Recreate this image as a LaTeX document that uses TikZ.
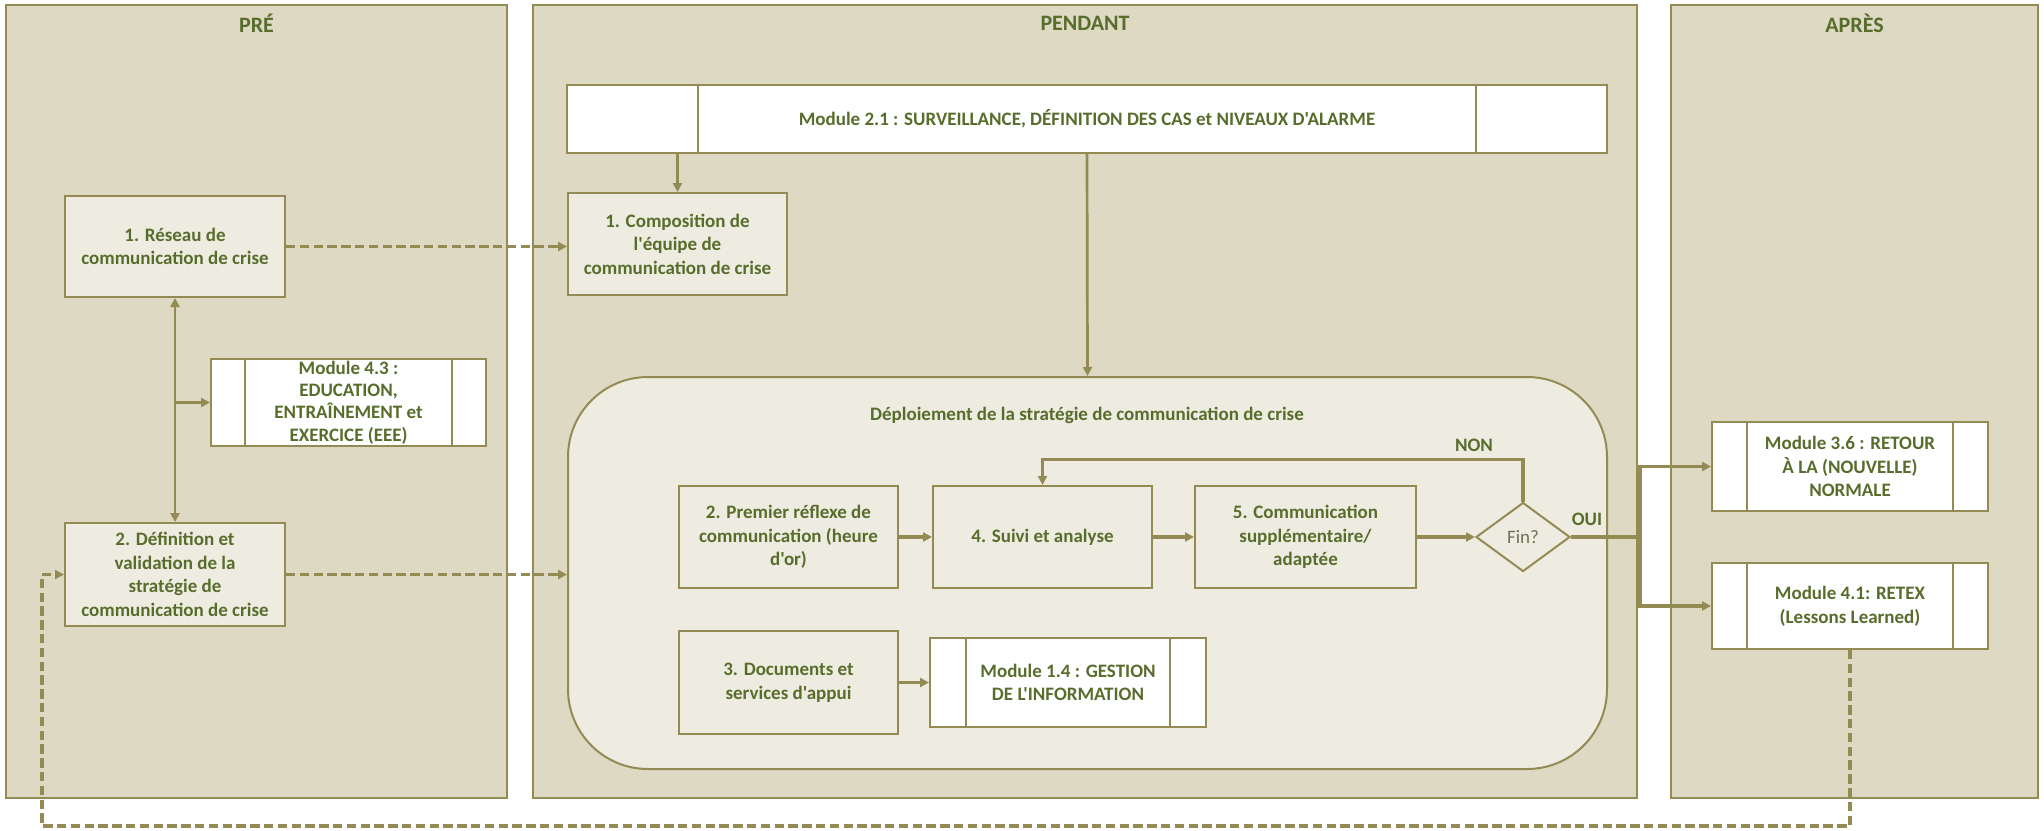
\documentclass[tikz,border=0pt]{standalone}
\usepackage{fontspec}
\newfontfamily\carl{Carlito}
\usetikzlibrary{arrows.meta,shapes.geometric}
\definecolor{lane}{HTML}{DDD9C3}
\definecolor{boxfill}{HTML}{EEECE1}
\definecolor{edge}{HTML}{948A54}
\definecolor{ink}{HTML}{586D2C}
\definecolor{soft}{HTML}{6F7155}
\begin{document}
\begin{tikzpicture}[x=0.5pt,y=-0.5pt,
  font=\carl\bfseries\fontsize{9.5}{11.8}\selectfont, text=ink,
  every node/.append style={inner sep=0pt, align=center},
  lanebox/.style={draw=edge, fill=lane, line width=1pt},
  lanetitle/.style={font=\carl\bfseries\fontsize{11}{13}\selectfont},
  stepbox/.style={draw=edge, fill=boxfill, line width=1pt},
  modbox/.style={draw=edge, fill=white, line width=1pt,
    path picture={\draw[edge, line width=0.7pt]
      ([xshift=#1]path picture bounding box.north west) -- ([xshift=#1]path picture bounding box.south west)
      ([xshift=-#1]path picture bounding box.north east) -- ([xshift=-#1]path picture bounding box.south east);}},
  tip/.tip={Triangle[length=4.5pt,width=4.5pt]},
  conn/.style={draw=edge, line width=1.35pt, -tip},
  thick conn/.style={conn, line width=1.7pt},
  dconn/.style={conn, line width=1.7pt, dash pattern=on 4.7pt off 2.2pt},
]
\fill[white] (0,0) rectangle (2044,830);
\useasboundingbox (0,0) rectangle (2044,830);

% swimlanes
\draw[lanebox] (6,5) rectangle (507,798);
\draw[lanebox] (533,5) rectangle (1637,798);
\draw[lanebox] (1671,5) rectangle (2038,798);
\node[lanetitle] (tpre) at (256.5,23) {PRÉ};
\node[lanetitle] (tpend) at (1085,23) {PENDANT};
\node[lanetitle] (tapres) at (1854.5,23) {APRÈS};

% before the crisis
\node[stepbox, minimum width=110pt, minimum height=50.5pt] (b1) at (175,246.5)
  {1. Réseau de\\communication de crise};
\node[modbox=17pt, minimum width=137.5pt, minimum height=43.5pt,
  font=\carl\bfseries\fontsize{9.5}{11.2}\selectfont] (m43) at (348.5,402.5)
  {Module 4.3 :\\EDUCATION,\\ENTRAÎNEMENT et\\EXERCICE (EEE)};
\node[stepbox, minimum width=110pt, minimum height=51.5pt] (b2) at (175,574.5)
  {2. Définition et\\validation de la\\stratégie de\\communication de crise};

% during the crisis
\node[modbox=65.5pt, minimum width=520pt, minimum height=34pt] (m21) at (1087,119)
  {Module 2.1 : SURVEILLANCE, DÉFINITION DES CAS et NIVEAUX D'ALARME};
\node[stepbox, minimum width=109.5pt, minimum height=51pt] (comp) at (677.5,244)
  {1. Composition de\\l'équipe de\\communication de crise};
\node[stepbox, rounded corners=40pt, minimum width=519.5pt, minimum height=196pt] (deploy) at (1087.5,573) {};
\node (dtitle) at (1087,415) {Déploiement de la stratégie de communication de crise};
\node[stepbox, minimum width=109.5pt, minimum height=51pt] (p2) at (788.5,537)
  {2. Premier réflexe de\\communication (heure\\d'or)};
\node[stepbox, minimum width=109.5pt, minimum height=51pt] (p4) at (1042.5,537)
  {4. Suivi et analyse};
\node[stepbox, minimum width=110.5pt, minimum height=51pt] (p5) at (1305.5,537)
  {5. Communication\\supplémentaire/\\adaptée};
\node[diamond, draw=edge, fill=boxfill, line width=1pt, minimum width=47pt, minimum height=34.5pt,
  font=\carl\fontsize{9.5}{11.8}\selectfont, text=soft] (fin) at (1523,537) {Fin?};
\node[stepbox, minimum width=109.5pt, minimum height=51.5pt] (p3) at (788.5,682.5)
  {3. Documents et\\services d'appui};
\node[modbox=18pt, minimum width=138pt, minimum height=44.5pt] (m14) at (1068,682.5)
  {Module 1.4 : GESTION\\DE L'INFORMATION};
\node (non) at (1474,445) {NON};
\node (oui) at (1587,519) {OUI};

% after the crisis
\node[modbox=17.5pt, minimum width=138pt, minimum height=44.5pt] (m36) at (1850,466.5)
  {Module 3.6 : RETOUR\\À LA (NOUVELLE)\\NORMALE};
\node[modbox=17.5pt, minimum width=138pt, minimum height=43pt] (m41) at (1850,606)
  {Module 4.1: RETEX\\(Lessons Learned)};

% connectors
\draw[conn, tip-tip] (b1) -- (b2);
\coordinate (br) at (b1.south |- m43.west);
\draw[thick conn] (br) -- (m43.west);
\draw[dconn] (b1.east) -- (b1.east -| comp.west);
\draw[dconn] (b2.east) -- (b2.east -| deploy.west);
\draw[conn] (m21.south -| comp.north) -- (comp.north);
\draw[conn] (m21.south) -- (deploy.north);
\draw[thick conn] (p2.east) -- (p4.west);
\draw[thick conn] (p4.east) -- (p5.west);
\draw[thick conn] (p5.east) -- (fin.west);
\draw[conn, line width=1.6pt] (fin.north) -- ++(0,-42) -| (p4.north);
\draw[thick conn] (p3.east) -- (m14.west);
\coordinate (split) at (1640,537);
\draw[conn, line width=1.6pt] (fin.east) -- (split) |- (m36.west);
\draw[conn, line width=1.6pt] (split) |- (m41.west);
\coordinate (lowR) at (1850,826);
\coordinate (lowL) at (42,826);
\draw[dconn] (m41.south) -- (lowR) -- (lowL) |- (b2.west);
\end{tikzpicture}
\end{document}
